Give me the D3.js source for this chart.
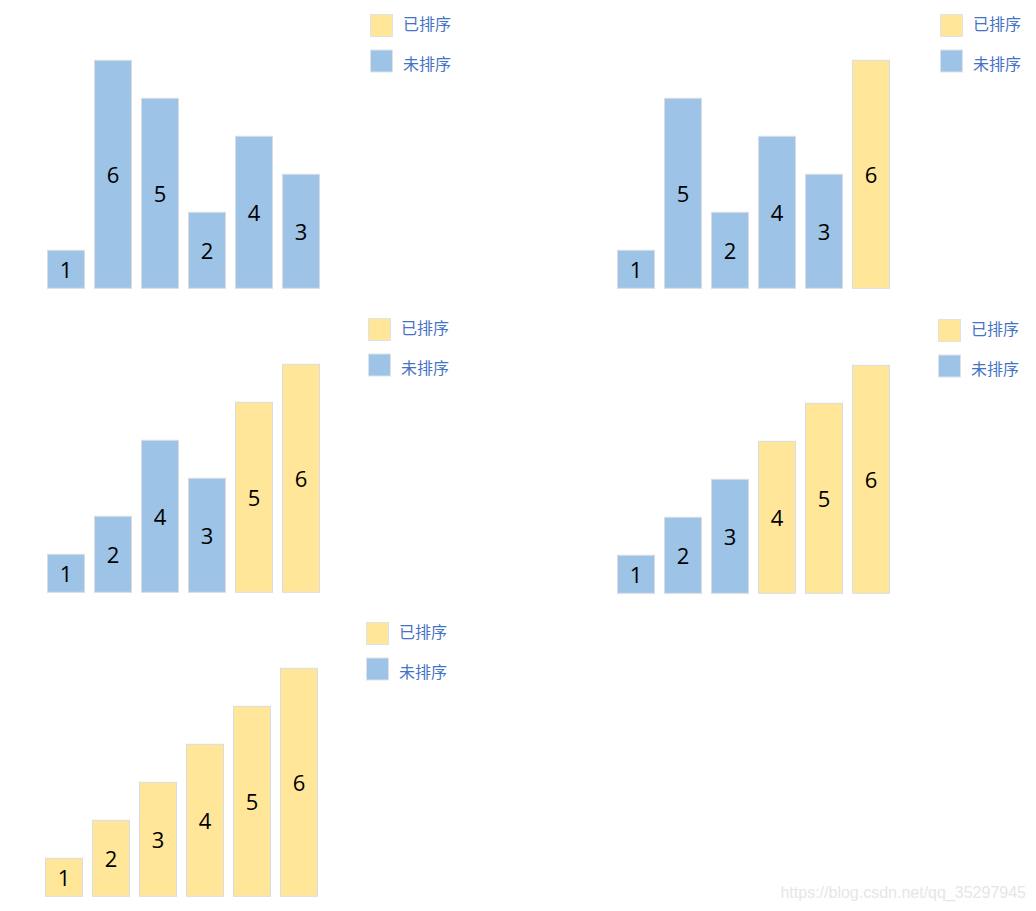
<!DOCTYPE html>
<html><head><meta charset="utf-8">
<script src="https://cdn.jsdelivr.net/npm/d3@7"></script>
<style>html,body{margin:0;padding:0;background:#fff;}</style>
</head><body>
<script>
// Bubble sort steps: values per step, and how many trailing bars are sorted
const step1 = [1, 6, 5, 2, 4, 3];
const step2 = [1, 5, 2, 4, 3, 6];
const step3 = [1, 2, 4, 3, 5, 6];
const step4 = [1, 2, 3, 4, 5, 6];
const step5 = [1, 2, 3, 4, 5, 6];
const sortedCounts = [0, 1, 2, 3, 6];
const legendLabels = ["已排序", "未排序"];
const watermark = "https://blog.csdn.net/qq_35297945";

const steps = [step1, step2, step3, step4, step5];
// panel placement: bar origin (left, baseline) and legend origin
const panels = [
  {bx: 47, by: 288.3, lx: 370, ly: 14},
  {bx: 617, by: 288.3, lx: 940, ly: 14},
  {bx: 47, by: 592.3, lx: 368, ly: 318},
  {bx: 617, by: 593.3, lx: 938, ly: 319},
  {bx: 45, by: 896.3, lx: 366, ly: 622}
];

const W = 1036, H = 911;
const colSorted = "#ffe699", colUnsorted = "#9dc3e6";
const svg = d3.select("body").append("svg").attr("width", W).attr("height", H);

const x = d3.scaleBand().domain(d3.range(6)).range([0, 272]).paddingInner(10/47).paddingOuter(0);
const yH = d3.scaleLinear().domain([0, 6]).range([0, 228]);

steps.forEach((vals, i) => {
  const p = panels[i];
  const nSorted = sortedCounts[i];
  const g = svg.append("g").attr("transform", `translate(${p.bx},${p.by})`);
  const data = vals.map((v, k) => ({v, k, sorted: k >= vals.length - nSorted}));
  g.selectAll("rect").data(data).join("rect")
    .attr("x", d => x(d.k) + 0.5)
    .attr("y", d => -yH(d.v))
    .attr("width", x.bandwidth())
    .attr("height", d => yH(d.v))
    .attr("fill", d => d.sorted ? colSorted : colUnsorted)
    .attr("stroke", "#d9dde3")
    .attr("stroke-width", 1);
  g.selectAll("text").data(data).join("text")
    .attr("x", d => x(d.k) + x.bandwidth()/2 + 0.5)
    .attr("y", d => -yH(d.v)/2)
    .attr("text-anchor", "middle")
    .attr("dominant-baseline", "central")
    .attr("font-family", "'Open Sans', 'Liberation Sans', sans-serif")
    .attr("font-size", 22)
    .attr("fill", "#000")
    .text(d => d.v);

  const lg = svg.append("g").attr("transform", `translate(${p.lx},${p.ly})`);
  legendLabels.forEach((lab, j) => {
    lg.append("rect")
      .attr("x", 0.5).attr("y", j*35.5 + 0.5)
      .attr("width", 22).attr("height", 22)
      .attr("fill", j === 0 ? colSorted : colUnsorted)
      .attr("stroke", "#dfe3e8").attr("stroke-width", 1);
    lg.append("text")
      .attr("x", 33).attr("y", j*39.5 + 9.3)
      .attr("dominant-baseline", "central")
      .attr("font-family", "'Noto Sans CJK SC', sans-serif")
      .attr("font-size", 16)
      .attr("fill", "#4472c4")
      .text(lab);
  });
});

svg.append("text")
  .attr("x", 1026).attr("y", 898)
  .attr("text-anchor", "end")
  .attr("font-family", "'Liberation Sans', Arial, sans-serif")
  .attr("font-size", 16)
  .attr("fill", "#e6e6e6")
  .text(watermark);
</script>
</body></html>
